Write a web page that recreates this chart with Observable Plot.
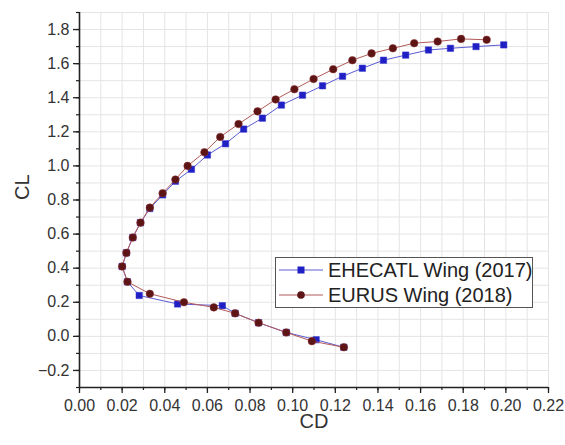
<!DOCTYPE html>
<html>
<head>
<meta charset="utf-8">
<script src="https://cdn.jsdelivr.net/npm/d3@7"></script>
<script src="https://cdn.jsdelivr.net/npm/@observablehq/plot@0.6"></script>
<style>
  html, body { margin: 0; padding: 0; background: #fff; }
  #wrap { position: relative; width: 565px; height: 445px; font-family: "Liberation Sans", Arial, sans-serif; }
  #legend { position: absolute; left: 275px; top: 257px; width: 258px; height: 51px; border: 1px solid #555; background: #fff; box-sizing: border-box; }
  .item { position: absolute; left: 2px; height: 22px; display: flex; align-items: center; font-size: 20px; color: #222; white-space: nowrap; }
  .item svg { margin-right: 4px; }
</style>
</head>
<body>
<div id="wrap"></div>
<script>
// EHECATL Wing (2017)
const cdEhecatl = [0.124, 0.111, 0.097, 0.084, 0.073, 0.067, 0.046, 0.028, 0.0225, 0.020, 0.022, 0.025, 0.0286, 0.033, 0.039, 0.045, 0.0525, 0.060, 0.0685, 0.077, 0.0858, 0.0947, 0.1046, 0.114, 0.1234, 0.1327, 0.1426, 0.153, 0.1637, 0.174, 0.186, 0.199];
const clEhecatl = [-0.064, -0.02, 0.023, 0.08, 0.135, 0.18, 0.19, 0.24, 0.32, 0.41, 0.49, 0.58, 0.667, 0.75, 0.83, 0.91, 0.98, 1.064, 1.13, 1.216, 1.28, 1.357, 1.415, 1.47, 1.526, 1.573, 1.62, 1.65, 1.68, 1.69, 1.70, 1.71];
// EURUS Wing (2018)
const cdEurus = [0.124, 0.109, 0.097, 0.084, 0.073, 0.063, 0.049, 0.033, 0.0225, 0.020, 0.022, 0.025, 0.0286, 0.033, 0.039, 0.045, 0.0507, 0.0586, 0.066, 0.0746, 0.0835, 0.092, 0.1008, 0.1098, 0.119, 0.128, 0.137, 0.147, 0.157, 0.168, 0.179, 0.191];
const clEurus = [-0.064, -0.028, 0.023, 0.08, 0.135, 0.17, 0.20, 0.25, 0.32, 0.41, 0.49, 0.58, 0.667, 0.755, 0.84, 0.92, 1.00, 1.08, 1.17, 1.246, 1.32, 1.39, 1.45, 1.51, 1.567, 1.62, 1.66, 1.69, 1.72, 1.73, 1.745, 1.74];

const seriesNames = ["EHECATL Wing (2017)", "EURUS Wing (2018)"];
const xMajor = [0, 0.02, 0.04, 0.06, 0.08, 0.10, 0.12, 0.14, 0.16, 0.18, 0.20, 0.22];
const yMajor = [-0.2, 0, 0.2, 0.4, 0.6, 0.8, 1.0, 1.2, 1.4, 1.6, 1.8];

const ehecatl = cdEhecatl.map((cd, i) => ({cd, cl: clEhecatl[i]}));
const eurus = cdEurus.map((cd, i) => ({cd, cl: clEurus[i]}));
const xMinor = d3.range(0, 23).map(i => i / 100);
const yMinor = d3.range(-3, 20).map(i => i / 10);

const blueLine = "#5c5cd4", blueMark = "#1f1fc4";
const redLine = "#b45a5a", redMark = "#5c1414";

const chart = Plot.plot({
  width: 565,
  height: 445,
  marginLeft: 79,
  marginRight: 17,
  marginTop: 12,
  marginBottom: 58,
  style: {fontFamily: "Liberation Sans, Arial, sans-serif", fontSize: "16px", color: "#222", background: "#fff"},
  x: {domain: [0, 0.22]},
  y: {domain: [-0.3, 1.9]},
  marks: [
    Plot.gridX(xMinor, {stroke: "#e4e4e4", strokeOpacity: 1}),
    Plot.gridY(yMinor, {stroke: "#e4e4e4", strokeOpacity: 1}),
    Plot.axisX(xMinor, {tickSize: 3, tickFormat: () => "", label: null, stroke: "#222", strokeWidth: 1.2}),
    Plot.axisY(yMinor, {tickSize: 3, tickFormat: () => "", label: null, stroke: "#222", strokeWidth: 1.2}),
    Plot.axisX(xMajor, {tickSize: 6, tickPadding: 6, tickFormat: d3.format(".2f"), label: null, stroke: "#222", strokeWidth: 1.3, fill: "#333", fontSize: 16}),
    Plot.axisY(yMajor, {tickSize: 6, tickPadding: 4, tickFormat: d3.format(".1f"), label: null, stroke: "#222", strokeWidth: 1.3, fill: "#333", fontSize: 16}),
    Plot.ruleX([0], {stroke: "#222", strokeWidth: 1.6}),
    Plot.ruleY([-0.3], {stroke: "#222", strokeWidth: 1.6}),
    Plot.line(ehecatl, {x: "cd", y: "cl", stroke: blueLine, strokeWidth: 1}),
    Plot.dot(ehecatl, {x: "cd", y: "cl", symbol: "square", r: 3.6, fill: blueMark, stroke: "#3030d0", strokeWidth: 0.5}),
    Plot.line(eurus, {x: "cd", y: "cl", stroke: redLine, strokeWidth: 1}),
    Plot.dot(eurus, {x: "cd", y: "cl", symbol: "circle", r: 3.8, fill: redMark, stroke: "#8a3030", strokeWidth: 0.5}),
    Plot.text(["CL"], {frameAnchor: "left", dx: -57, rotate: -90, fontSize: 20, fill: "#333"}),
    Plot.text(["CD"], {frameAnchor: "bottom", dy: 40, fontSize: 20, fill: "#333"})
  ]
});

const wrap = document.getElementById("wrap");
wrap.appendChild(chart);

const legend = document.createElement("div");
legend.id = "legend";
const styles = [
  {line: blueLine, mark: blueMark, sym: "square", top: 1},
  {line: redLine, mark: redMark, sym: "circle", top: 26}
];
seriesNames.forEach((name, i) => {
  const s = styles[i];
  const it = document.createElement("div");
  it.className = "item";
  it.style.top = s.top + "px";
  const markSvg = s.sym === "square"
    ? `<rect x="19.5" y="7.5" width="7" height="7" fill="${s.mark}"/>`
    : `<circle cx="23" cy="11" r="3.8" fill="${s.mark}"/>`;
  it.innerHTML = `<svg width="46" height="22"><line x1="1" x2="45" y1="11" y2="11" stroke="${s.line}" stroke-width="1"/>${markSvg}</svg><span>${name}</span>`;
  legend.appendChild(it);
});
wrap.appendChild(legend);
</script>
</body>
</html>
